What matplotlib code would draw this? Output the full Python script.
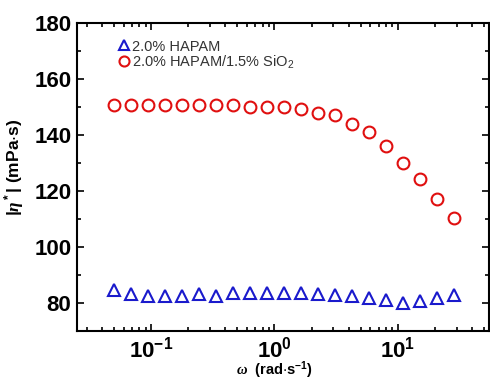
import matplotlib
matplotlib.use("Agg")
import matplotlib.pyplot as plt
from matplotlib.ticker import LogLocator, MultipleLocator, NullFormatter

plt.rcParams['font.family'] = ['Liberation Sans', 'DejaVu Sans']
plt.rcParams['mathtext.fontset'] = 'custom'
plt.rcParams['mathtext.it'] = 'Liberation Serif:italic:bold'
plt.rcParams['mathtext.default'] = 'regular'

# angular frequency (rad/s)
omega = [0.05, 0.0687, 0.0944, 0.130, 0.178, 0.245, 0.336, 0.462, 0.635, 0.873,
         1.20, 1.65, 2.26, 3.11, 4.27, 5.87, 8.07, 11.1, 15.2, 20.9, 28.7]
# complex viscosity (mPa s)
eta_hapam = [84.5, 83.0, 82.4, 82.6, 82.4, 83.1, 82.4, 83.6, 83.6, 83.4,
             83.6, 83.4, 83.0, 82.8, 82.5, 81.9, 81.2, 80.0, 80.7, 81.6, 82.8]
eta_sio2 = [150.7, 150.7, 150.7, 150.7, 150.7, 150.7, 150.7, 150.7, 150.1, 150.1,
            150.1, 149.2, 148.0, 147.0, 144.0, 141.0, 136.2, 130.1, 124.2, 117.3, 110.2]

fig = plt.figure(figsize=(4.9, 3.79), dpi=100)
ax = fig.add_axes([0.157, 0.127, 0.841, 0.812])

ax.plot(omega, eta_hapam, linestyle='none', marker='^', markersize=9,
        markerfacecolor='none', markeredgecolor='#1a1acc', markeredgewidth=1.5,
        label='2.0% HAPAM')
ax.plot(omega, eta_sio2, linestyle='none', marker='o', markersize=8.5,
        markerfacecolor='none', markeredgecolor='#e01010', markeredgewidth=1.5,
        label='2.0% HAPAM/1.5% SiO$_2$')

ax.set_xscale('log')
ax.set_xlim(0.025, 55)
ax.set_ylim(70, 180)
ax.yaxis.set_major_locator(MultipleLocator(20))
ax.yaxis.set_minor_locator(MultipleLocator(10))
ax.xaxis.set_major_locator(LogLocator(base=10))
ax.xaxis.set_minor_locator(LogLocator(base=10, subs=range(2, 10)))
ax.xaxis.set_minor_formatter(NullFormatter())

ax.tick_params(which='both', direction='in', top=True, right=True, width=1.2)
ax.tick_params(which='major', length=5, labelsize=16, pad=4)
ax.tick_params(axis='x', which='major', pad=4)
ax.tick_params(which='minor', length=3)
for lbl in ax.get_xticklabels() + ax.get_yticklabels():
    lbl.set_fontweight('bold')
for s in ax.spines.values():
    s.set_linewidth(1.5)

ax.set_ylabel(r'|$\it{\eta}$$^*$| (mPa$\cdot$s)', fontsize=12.5, fontweight='bold')
ax.yaxis.set_label_coords(-0.124, 0.53)
ax.set_xlabel(r'$\it{\omega}$  (rad$\cdot$s$^{-1}$)', fontsize=10.5, fontweight='bold')
ax.xaxis.set_label_coords(0.48, -0.094)

leg = ax.legend(loc='upper left', frameon=False, fontsize=10.5, handletextpad=0.15,
                handlelength=0.8, borderaxespad=0.2, labelspacing=0.0,
                bbox_to_anchor=(0.078, 0.975), markerscale=0.85)
for t in leg.get_texts():
    t.set_color('#333333')

fig.savefig('out.png', dpi=100)
